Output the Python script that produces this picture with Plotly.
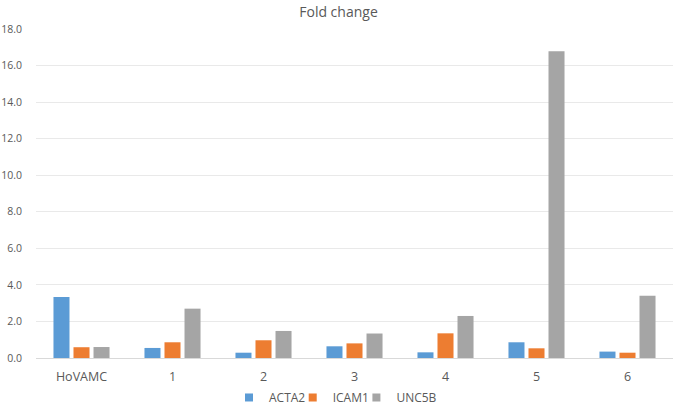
import plotly.graph_objects as go

categories = ["HoVAMC", "1", "2", "3", "4", "5", "6"]
acta2 = [3.34, 0.55, 0.29, 0.64, 0.31, 0.86, 0.35]
icam1 = [0.59, 0.86, 0.97, 0.80, 1.35, 0.53, 0.29]
unc5b = [0.60, 2.70, 1.48, 1.34, 2.30, 16.78, 3.40]

series = [("ACTA2", acta2, "#5B9BD5"), ("ICAM1", icam1, "#ED7D31"), ("UNC5B", unc5b, "#A5A5A5")]
legend_ids = ["legend", "legend2", "legend3"]
legend_x = [0.303, 0.403, 0.503]

fig = go.Figure()
for name, vals, col in series:
    fig.add_trace(go.Bar(x=categories, y=vals, name=name, showlegend=False,
                         marker=dict(color=col, line=dict(width=0))))
for (name, vals, col), lid in zip(series, legend_ids):
    fig.add_trace(go.Scatter(x=[None], y=[None], mode="markers", name=name, legend=lid,
                             marker=dict(symbol="square", size=8, color=col)))

font = "Open Sans, Noto Sans, sans-serif"
leg_common = dict(orientation="h", xanchor="left", y=-0.12, yanchor="middle",
                  bgcolor="rgba(0,0,0,0)", font=dict(size=12, color="#595959"), itemwidth=30)
fig.update_layout(
    width=677, height=405,
    margin=dict(l=36, r=4, t=29, b=47, autoexpand=False),
    paper_bgcolor="white", plot_bgcolor="white",
    barmode="group", bargap=0.34, bargroupgap=0.2,
    title=dict(text="Fold change", x=0.5, xanchor="center", y=1 - 12 / 405, yanchor="middle",
               font=dict(family=font, size=14, color="#595959")),
    font=dict(family=font, color="#595959"),
    xaxis=dict(showgrid=False, showline=True, linecolor="#D9D9D9", ticks="", automargin=False,
               ticklabelstandoff=7, tickfont=dict(size=12.5, color="#595959")),
    yaxis=dict(range=[0, 18], dtick=2, tickformat=".1f", showgrid=True, gridcolor="#E9E9E9",
               zeroline=False, ticks="", ticklabelstandoff=13, automargin=False,
               tickfont=dict(size=10.5, color="#595959")),
)
for lid, lx in zip(legend_ids, legend_x):
    fig.update_layout({lid: dict(leg_common, x=lx)})
fig.write_html("out.html")
